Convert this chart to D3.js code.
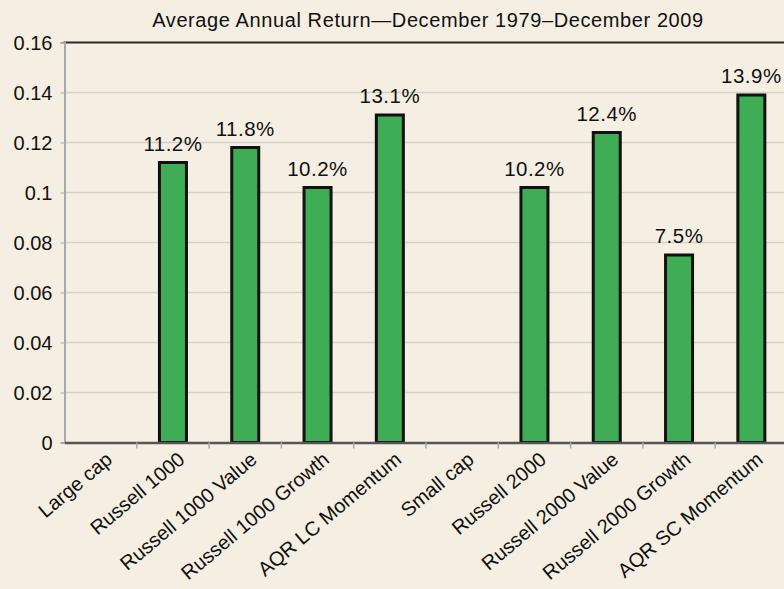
<!DOCTYPE html>
<html><head><meta charset="utf-8">
<script src="https://cdn.jsdelivr.net/npm/d3@7"></script>
<style>
html,body{margin:0;padding:0;background:#f4efe2;}
svg{display:block;}
text{font-family:"Liberation Sans",Arial,Helvetica,sans-serif;fill:#111;}
</style></head>
<body>
<svg id="chart" width="784" height="589"></svg>
<script>
const categories = ["Large cap","Russell 1000","Russell 1000 Value","Russell 1000 Growth","AQR LC Momentum","Small cap","Russell 2000","Russell 2000 Value","Russell 2000 Growth","AQR SC Momentum"];
const values = [null,0.112,0.118,0.102,0.131,null,0.102,0.124,0.075,0.139];
const yTicks = [0,0.02,0.04,0.06,0.08,0.1,0.12,0.14,0.16];
const title = "Average Annual Return\u2014December 1979\u2013December 2009";

const svg = d3.select("#chart");
const m = {left:64.5, right:-3.5, top:42.5, bottom:146};
const W = 784, H = 589;
const x = d3.scaleBand().domain(categories).range([m.left, W - m.right]).paddingInner(0).paddingOuter(0);
const y = d3.scaleLinear().domain([0,0.16]).range([H - m.bottom - 0.5, m.top]);

// gridlines
svg.append("g").selectAll("line").data(yTicks.slice(1,-1)).join("line")
  .attr("x1", m.left).attr("x2", W).attr("y1", d=>y(d)).attr("y2", d=>y(d))
  .attr("stroke","#d5d1c7").attr("stroke-width",1.5);

// top border
svg.append("line").attr("x1", m.left-1).attr("x2", W).attr("y1", y(0.16)).attr("y2", y(0.16))
  .attr("stroke","#2b2b2b").attr("stroke-width",2);

// y axis
const yAxis = d3.axisLeft(y).tickValues(yTicks).tickSize(4).tickFormat(d => d===0 ? "0" : String(d));
const ga = svg.append("g").attr("transform",`translate(${m.left},0)`).call(yAxis);
ga.select(".domain").attr("stroke","#a9a9a9").attr("stroke-width",2);
ga.selectAll(".tick line").attr("stroke","#a9a9a9");
ga.selectAll(".tick text").attr("font-size",20).attr("x",-12).attr("dy","0.35em")
  .style("font-family",'"Liberation Sans",Arial,sans-serif').attr("fill","#111");

// bars
const bw = 27;
const bars = categories.map((c,i)=>({c, v:values[i]})).filter(d=>d.v!==null);
svg.append("g").selectAll("rect").data(bars).join("rect")
  .attr("x", d => x(d.c) + x.bandwidth()/2 - bw/2)
  .attr("y", d => y(d.v))
  .attr("width", bw)
  .attr("height", d => y(0) - y(d.v))
  .attr("fill","#3fad56").attr("stroke","#111").attr("stroke-width",3);

// value labels
svg.append("g").selectAll("text").data(bars).join("text")
  .attr("x", d => x(d.c) + x.bandwidth()/2)
  .attr("y", d => y(d.v) - 12)
  .attr("text-anchor","middle").attr("font-size",20.5).attr("letter-spacing",0.5)
  .text(d => (d.v*100).toFixed(1) + "%");

// x axis
const xAxis = d3.axisBottom(x).tickSize(0).tickFormat("");
const gx = svg.append("g").attr("transform",`translate(0,${y(0)})`).call(xAxis);
gx.select(".domain").attr("stroke","#555").attr("stroke-width",2.5);
// ticks at category boundaries
svg.append("g").selectAll("line").data(categories.slice(1)).join("line")
  .attr("x1", d=>x(d)).attr("x2", d=>x(d)).attr("y1", y(0)).attr("y2", y(0)+6)
  .attr("stroke","#a9a9a9").attr("stroke-width",1.5);

// x labels
svg.append("g").selectAll("text").data(categories).join("text")
  .attr("transform", d => `translate(${x(d)+x.bandwidth()/2+13},${y(0)+19}) rotate(-40)`)
  .attr("text-anchor","end").attr("font-size",20)
  .text(d=>d);

// title
svg.append("text").attr("x", 428).attr("y", 27).attr("text-anchor","middle")
  .attr("font-size",20).attr("letter-spacing",0.6).text(title);
</script>
</body></html>
